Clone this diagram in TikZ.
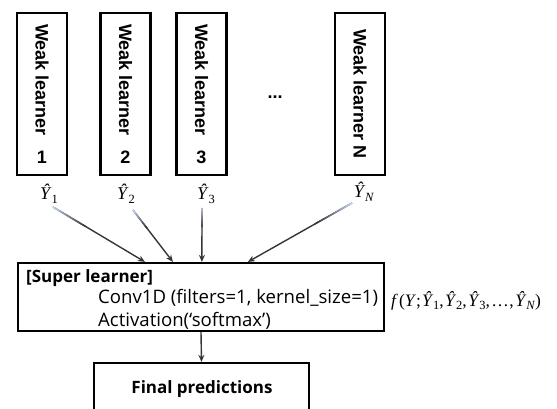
\documentclass[tikz,border=0pt]{standalone}
\usepackage{fontspec}
\setmainfont{Open Sans}
\newfontfamily\boxfont{Liberation Sans}
\newfontfamily\formfont{Liberation Serif}
\usetikzlibrary{arrows.meta,calc}
\definecolor{darkline}{HTML}{363636}
\definecolor{fadeblue}{HTML}{C2D2F2}
\tikzset{
  weakbox/.style={draw, line width=2.2pt, minimum width=50pt, minimum height=162pt, inner sep=0pt},
  weaktext/.style={font=\boxfont\bfseries\fontsize{18}{18}\selectfont, inner sep=0pt},
  mainbox/.style={draw, line width=2.2pt, inner sep=0pt},
  bodytext/.style={font=\fontsize{18.6}{18.6}\selectfont, inner sep=0pt},
  headtext/.style={font=\bfseries\fontsize{17}{17}\selectfont, inner sep=0pt},
  mathlabel/.style={font=\formfont\fontsize{18}{18}\selectfont, inner sep=0pt},
  flow/.style={line width=1.4pt, darkline, -{Stealth[length=7pt,width=6pt]}},
}
% estimate symbol: Y with a hat and a subscript
\newcommand{\yh}[1]{\textit{Ŷ}\kern-0.3pt\raisebox{-0.45ex}{\fontsize{12.5}{12.5}\selectfont #1}}
% draw a flow arrow whose first part fades from blue into the line colour
\newcommand{\fadearrow}[2]{%
  \draw[flow] (#1) -- (#2);
  \foreach \i in {0,...,13}{%
    \pgfmathsetmacro{\pc}{100*\i/13}%
    \draw[line width=1.4pt, color=darkline!\pc!fadeblue]
      ($(#1)!{\i/40}!(#2)$) -- ($(#1)!{(\i+1.3)/40}!(#2)$);
  }%
}
\begin{document}
\begin{tikzpicture}[x=1pt,y=-1pt]
\clip (0,0) rectangle (557,409);
\fill[white] (0,0) rectangle (557,409);

% weak learners
\node[weakbox] (w1) at (42,94) {};
\node[weakbox] (w2) at (125.5,94) {};
\node[weakbox] (w3) at (201.5,94) {};
\node[weakbox] (wn) at (360,94) {};
\node[weaktext, rotate=-90] (w1t) at (42,80) {Weak learner};
\node[weaktext, rotate=-90] (w2t) at (125.5,80) {Weak learner};
\node[weaktext, rotate=-90] (w3t) at (201.5,80) {Weak learner};
\node[weaktext] (w1n) at (42,157) {1};
\node[weaktext] (w2n) at (125.5,157) {2};
\node[weaktext] (w3n) at (201.5,157) {3};
\node[weaktext, rotate=-90] (wnt) at (360,94) {Weak learner N};
\node[weaktext] (dots) at (275,97) {...};

% outputs of the weak learners
\node[mathlabel] (y1) at (49,194) {\yh{1}};
\node[mathlabel] (y2) at (126,194) {\yh{2}};
\node[mathlabel] (y3) at (206,194) {\yh{3}};
\node[mathlabel] (yn) at (364,192) {\yh{\textit{N}}};

% super learner
\node[mainbox, minimum width=366pt, minimum height=68pt] (super) at (201,297) {};
\node[headtext, anchor=base west] (sh) at (26,282) {[Super learner]};
\node[bodytext, anchor=base west] (s1) at (98,303) {Conv1D (filters=1, kernel\_size=1)};
\node[bodytext, anchor=base west] (s2) at (98,326) {Activation(‘softmax’)};
\node[mathlabel, anchor=base west, font=\formfont\fontsize{17.5}{17.5}\selectfont] (fx) at (391,306)
  {\textit{f}\kern1pt(\textit{Y};\kern1pt\yh{1},\kern1.5pt\yh{2},\kern1.5pt\yh{3},\kern1.5pt…\kern0.5pt,\kern1.5pt\yh{\textit{N}})};

% final predictions
\node[mainbox, minimum width=215pt, minimum height=80pt] (final) at (201.5,403) {};
\node[headtext, anchor=base] (ft) at (202,393) {Final predictions};

% connectors
\coordinate (s1a) at (53,207);
\coordinate (s2a) at (133,210);
\coordinate (s3a) at (202,208);
\coordinate (sna) at (352,203);
\path (super.north west) ++(128,0) coordinate (e1);
\path (super.north west) ++(156,0) coordinate (e2);
\path (super.north west) ++(185,0) coordinate (e3);
\path (super.north west) ++(231,0) coordinate (en);
\fadearrow{s1a}{e1}
\fadearrow{s2a}{e2}
\fadearrow{s3a}{e3}
\fadearrow{sna}{en}
\draw[flow] (super.south) -- (final.north);
\end{tikzpicture}
\end{document}
